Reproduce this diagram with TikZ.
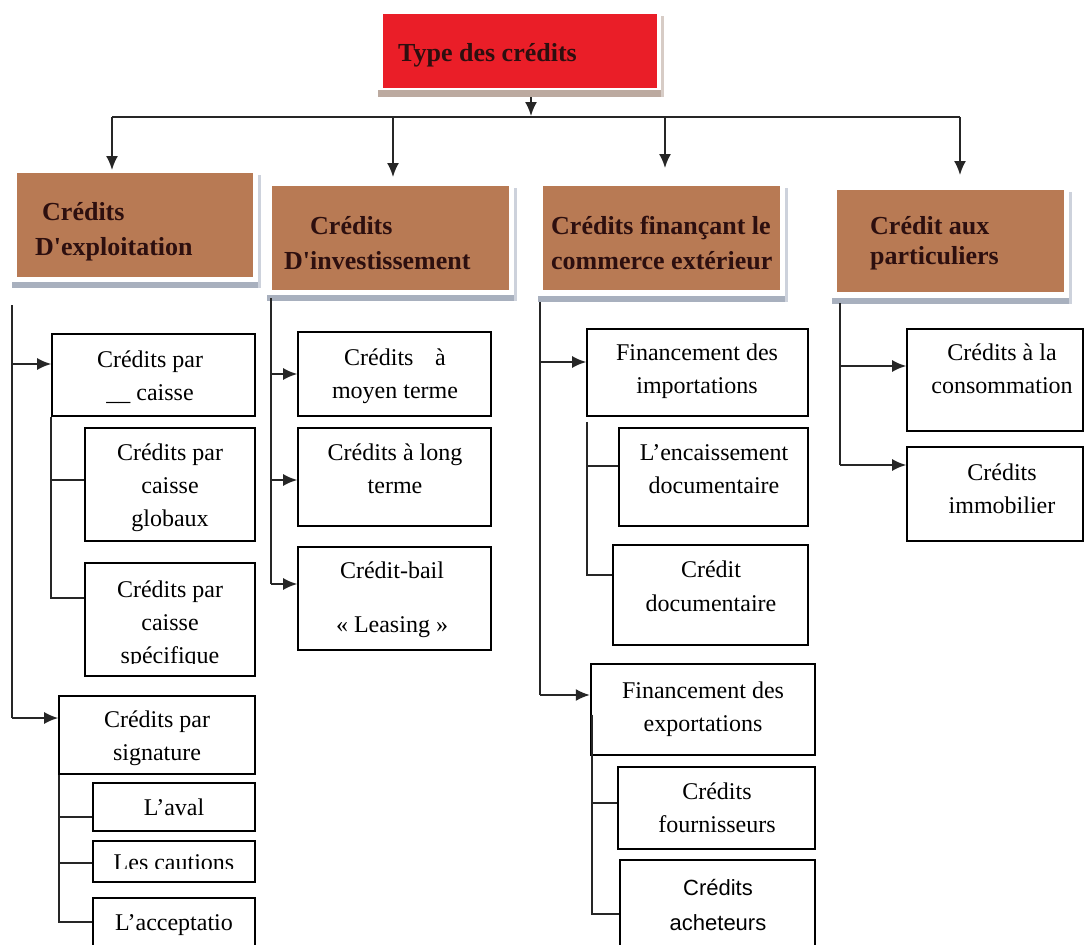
\documentclass[tikz,border=0pt]{standalone}
\usepackage{fontspec}
\setmainfont{Liberation Serif}
\newfontfamily\sansf{Liberation Sans}
\usetikzlibrary{arrows.meta,fit,calc}
\definecolor{redbox}{RGB}{234,30,40}
\definecolor{brownbox}{RGB}{184,122,84}
\definecolor{shadowc}{RGB}{168,176,190}
\definecolor{shadowl}{RGB}{205,210,220}
\definecolor{redshadow}{RGB}{188,170,160}
\definecolor{hdtext}{RGB}{45,15,15}
\begin{document}
\begin{tikzpicture}[x=1pt,y=-1pt,
  sbox/.style={draw=black, line width=1.6pt, inner sep=0pt},
  thickbox/.style={sbox, line width=2.4pt},
  hbox/.style={fill=brownbox, inner sep=0pt},
  conn/.style={line width=1.8pt, draw=black!85},
  arr/.style={conn, -{Latex[length=14pt,width=12pt]}},
  txt/.style={font=\fontsize{24}{33}\selectfont, align=center, anchor=north, inner sep=0pt},
  stxt/.style={font=\sansf\fontsize{22}{35}\selectfont, align=center, anchor=north, inner sep=0pt},
  htxt/.style={font=\fontsize{26}{35}\selectfont\bfseries, align=left, anchor=north west, inner sep=0pt, text=hdtext}]
\clip (0,0) rectangle (1085,945);
\fill[white] (0,0) rectangle (1085,945);

% ---------- top box ----------
\fill[redshadow] (378,90) rectangle (664,97);
\fill[redshadow!60] (661,16) rectangle (664,97);
\node[fill=redbox, inner sep=0pt, fit={(383,14) (657,88)}] (top) {};
\node[htxt, text=hdtext] (toptxt) at (398,37) {\strut Type des crédits};

% ---------- header boxes ----------
\fill[shadowc] (12,282) rectangle (261,288);
\fill[shadowl] (258,175) rectangle (261,288);
\node[hbox, fit={(17,173) (253,277)}] (h1) {};
\fill[shadowc] (267,295) rectangle (517,301);
\fill[shadowl] (514,188) rectangle (517,301);
\node[hbox, fit={(272,186) (509,290)}] (h2) {};
\fill[shadowc] (538,296) rectangle (788,302);
\fill[shadowl] (785,188) rectangle (788,302);
\node[hbox, fit={(543,186) (780,290)}] (h3) {};
\fill[shadowc] (832,298) rectangle (1072,304);
\fill[shadowl] (1069,192) rectangle (1072,304);
\node[hbox, fit={(837,190) (1064,292)}] (h4) {};

\node[htxt] (h1t) at (35,196) {\strut\hspace*{7pt}Crédits\\D\textquotesingle exploitation};
\node[htxt] (h2t) at (284,210) {\strut\hspace*{26pt}Crédits\\D\textquotesingle investissement};
\node[htxt] (h3t) at (551,210) {\strut Crédits finançant le\\commerce extérieur};
\node[htxt] (h4t) at (870,210) {\strut Crédit aux\\[-5pt]particuliers};

% ---------- top connectors ----------
\coordinate (ta) at (531,97);
\coordinate (tb) at (531,116);
\draw[arr] (ta) -- (tb);
\coordinate (busL) at (112,117);
\coordinate (busR) at (960,117);
\draw[conn] (busL) -- (busR);
\coordinate (d1) at (112,170);
\coordinate (d2) at (393,177);
\coordinate (d3) at (665,168);
\coordinate (d4) at (960,175);
\draw[arr] (busL) -- (d1);
\draw[arr] (busL -| d2) -- (d2);
\draw[arr] (busL -| d3) -- (d3);
\draw[arr] (busR) -- (d4);

% ---------- column 1 ----------
\node[sbox, fit={(52,334) (255,416)}] (cp) {};
\node[sbox, fit={(85,428) (255,541)}] (cg) {};
\node[sbox, fit={(85,563) (255,676)}] (cs) {};
\node[sbox, fit={(59,696) (255,774)}] (sig) {};
\node[sbox, fit={(93,783) (255,831)}] (aval) {};
\node[sbox, fit={(93,841) (255,882)}] (caut) {};
\node[thickbox, fit={(93,898) (255,952)}] (acc) {};

\node[txt] at (150,344) {\strut Crédits par\\\_\_ caisse};
\node[txt] at (170,437) {\strut Crédits par\\caisse\\globaux};
\begin{scope}
  \clip (86,564) rectangle (254,663);
  \node[txt] at (170,574) {\strut Crédits par\\caisse\\spécifique};
\end{scope}
\node[txt] at (157,704) {\strut Crédits par\\signature};
\node[txt] at (174,792) {\strut L’aval};
\begin{scope}
  \clip (94,842) rectangle (254,868);
  \node[txt] at (174,847) {\strut Les cautions};
\end{scope}
\node[txt] at (174,907) {\strut L’acceptatio};

\coordinate (b1) at (12,305);
\coordinate (cpA) at ($(cp.west)+(0,-11)$);
\coordinate (sigA) at ($(sig.west)+(0,-17)$);
\draw[conn] (b1) -- (b1 |- sigA);
\draw[arr] (b1 |- cpA) -- (cpA);
\draw[arr] (b1 |- sigA) -- (sigA);

\coordinate (cgA) at ($(cg.west)+(0,-4.5)$);
\coordinate (csA) at ($(cs.west)+(0,-21.5)$);
\draw[conn] (cp.south west) |- (csA);
\draw[conn] (cp.south west |- cgA) -- (cgA);

\coordinate (avalA) at ($(aval.west)+(0,10)$);
\coordinate (cautA) at ($(caut.west)+(0,1.5)$);
\coordinate (accA) at ($(acc.west)+(0,-3)$);
\coordinate (sigB) at ($(sig.south west)+(1,0)$);
\draw[conn] (sigB) |- (accA);
\draw[conn] (sigB |- avalA) -- (avalA);
\draw[conn] (sigB |- cautA) -- (cautA);

% ---------- column 2 ----------
\node[sbox, fit={(298,332) (491,416)}] (mt) {};
\node[sbox, fit={(298,428) (491,526)}] (lt) {};
\node[sbox, fit={(298,547) (491,650)}] (cb) {};
\node[txt] at (395,342) {\strut Crédits\hspace{0.9em}à\\moyen terme};
\node[txt] at (395,437) {\strut Crédits à long\\terme};
\node[txt] at (392,555) {\strut Crédit-bail\\[21pt]« Leasing »};

\coordinate (b2) at (271,298);
\coordinate (mtA) at (mt.west);
\coordinate (ltA) at ($(lt.west)+(0,3)$);
\coordinate (cbA) at ($(cb.west)+(0,-14.5)$);
\draw[conn] (b2) -- (b2 |- cbA);
\draw[arr] (b2 |- mtA) -- (mtA);
\draw[arr] (b2 |- ltA) -- (ltA);
\draw[arr] (b2 |- cbA) -- (cbA);

% ---------- column 3 ----------
\node[sbox, fit={(587,329) (808,416)}] (imp) {};
\node[sbox, fit={(619,428) (808,526)}] (enc) {};
\node[sbox, fit={(613,545) (808,645)}] (cdoc) {};
\node[thickbox, fit={(591,664) (815,755)}] (exp) {};
\node[sbox, fit={(618,767) (815,849)}] (four) {};
\node[thickbox, fit={(620,860) (815,952)}] (ach) {};

\node[txt] at (697,337) {\strut Financement des\\importations};
\node[txt] at (714,437) {\strut L’encaissement\\documentaire};
\node[txt] at (711,554) {\strut Crédit\\[1pt]documentaire};
\node[txt] at (703,675) {\strut Financement des\\exportations};
\node[txt] at (717,776) {\strut Crédits\\fournisseurs};
\node[stxt] at (718,871) {\strut Crédits\\acheteurs};

\coordinate (b3) at (540,302);
\coordinate (impA) at ($(imp.west)+(0,-10.5)$);
\coordinate (expA) at ($(exp.west)+(0,-14.5)$);
\draw[conn] (b3) -- (b3 |- expA);
\draw[arr] (b3 |- impA) -- (impA);
\draw[arr] (b3 |- expA) -- (expA);

\coordinate (impB) at ($(imp.south west)+(1,5)$);
\coordinate (encA) at ($(enc.west)+(0,-11)$);
\coordinate (cdocA) at ($(cdoc.west)+(0,-20)$);
\draw[conn] (impB) |- (cdocA);
\draw[conn] (impB |- encA) -- (encA);

\coordinate (expB) at ($(exp.west)+(2,5)$);
\coordinate (fourA) at ($(four.west)+(0,-5)$);
\coordinate (achA) at ($(ach.west)+(0,8)$);
\draw[conn] (expB) |- (achA);
\draw[conn] (expB |- fourA) -- (fourA);

% ---------- column 4 ----------
\node[sbox, fit={(907,329) (1083,431)}] (cons) {};
\node[sbox, fit={(907,447) (1083,541)}] (immo) {};
\node[txt] at (1002,337) {\strut Crédits à la\\consommation};
\node[txt] at (1002,457) {\strut Crédits\\immobilier};

\coordinate (b4) at (840,303);
\coordinate (consA) at ($(cons.west)+(0,-14)$);
\coordinate (immoA) at ($(immo.west)+(0,-29)$);
\draw[conn] (b4) -- (b4 |- immoA);
\draw[arr] (b4 |- consA) -- (consA);
\draw[arr] (b4 |- immoA) -- (immoA);
\end{tikzpicture}
\end{document}
